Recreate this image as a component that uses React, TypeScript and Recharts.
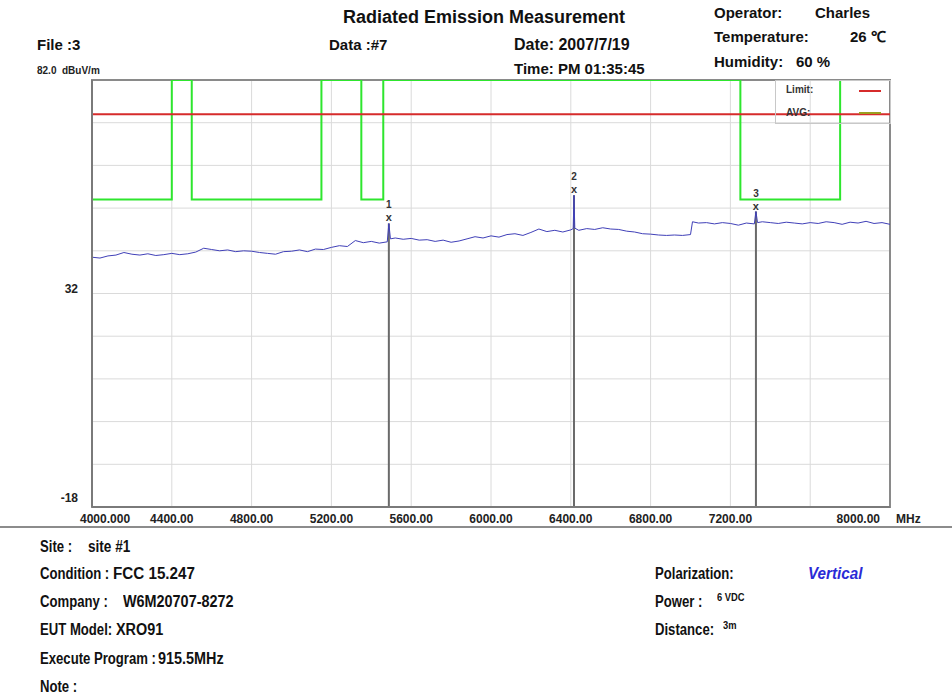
import { CartesianGrid, ComposedChart, Line, ReferenceArea, ReferenceLine, Scatter, XAxis, YAxis } from "recharts";

const freqTicks = [4000, 4400, 4800, 5200, 5600, 6000, 6400, 6800, 7200, 7600, 8000];
const freqTickLabels = ["4000.000", "4400.00", "4800.00", "5200.00", "5600.00", "6000.00", "6400.00", "6800.00", "7200.00", "", "8000.00"];
const levelTicks = [-18, -8, 2, 12, 22, 32, 42, 52, 62, 72, 82];
const levelTickLabels = ["-18", "", "", "", "", "32", "", "", "", "", "82.0"];

// measured trace (MHz / dBuV/m)
const traceFreq = [
  4000, 4040, 4080, 4120, 4160, 4200, 4240, 4280, 4320, 4360, 4400, 4440, 4480, 4520, 4560, 4600, 4640, 4680, 4720, 4760,
  4800, 4840, 4880, 4920, 4960, 5000, 5040, 5080, 5120, 5160, 5200, 5240, 5280, 5320, 5360, 5400, 5440, 5480, 5488, 5496,
  5520, 5560, 5600, 5640, 5680, 5720, 5760, 5800, 5840, 5880, 5920, 5960, 6000, 6040, 6080, 6120, 6160, 6200, 6240, 6280,
  6320, 6360, 6400, 6412, 6416, 6420, 6440, 6480, 6520, 6560, 6600, 6640, 6680, 6720, 6760, 6800, 6840, 6880, 6920, 6960,
  7000, 7010, 7040, 7080, 7120, 7160, 7200, 7240, 7280, 7320, 7328, 7336, 7360, 7400, 7440, 7480, 7520, 7560, 7600, 7640,
  7680, 7720, 7760, 7800, 7840, 7880, 7920, 7960, 8000,
];
const traceLevel = [
  40.5, 40.3, 40.8, 41.0, 41.6, 41.2, 41.0, 41.3, 40.9, 41.1, 41.4, 41.1, 41.3, 41.7, 42.6, 42.3, 42.0, 42.2, 41.8, 42.0,
  41.9, 41.6, 41.4, 41.2, 41.8, 41.9, 42.2, 41.8, 42.4, 42.3, 42.8, 43.2, 43.0, 44.4, 43.9, 44.2, 43.8, 44.1, 48.4, 44.8,
  45.0, 44.7, 44.9, 44.5, 44.6, 44.2, 44.5, 44.0, 44.3, 44.8, 45.3, 45.0, 45.5, 45.2, 45.8, 46.0, 45.6, 46.3, 47.1, 46.5,
  46.8, 46.4, 46.9, 47.2, 55.0, 47.3, 46.8, 47.2, 47.0, 47.4, 47.1, 47.0, 46.6, 46.4, 46.0, 45.9, 45.7, 45.6, 45.7, 45.6,
  45.8, 48.8, 48.5, 48.6, 48.3, 48.6, 48.4, 48.0, 48.5, 48.3, 51.2, 48.6, 48.8, 48.6, 48.4, 48.7, 48.5, 48.3, 48.6, 48.4,
  48.8, 48.6, 48.2, 48.7, 48.5, 48.9, 48.4, 48.6, 48.2,
];

const limitFreq = [4000, 8000];
const limitLevel = [74, 74];

const avgFreq = [4000, 4400, 4500, 5150, 5350, 5460, 7250, 7750, 8000];
const avgLevel = [54, 82, 54, 82, 54, 82, 54, 82, 82];

const markerFreq = [5488, 6416, 7328];
const markerLevel = [48.4, 55.0, 51.2];
const markerNames = ["1", "2", "3"];

const trace = traceFreq.map((f, i) => ({ f, v: traceLevel[i] }));
const limit = limitFreq.map((f, i) => ({ f, v: limitLevel[i] }));
const avg = avgFreq.map((f, i) => ({ f, v: avgLevel[i] }));
const markers = markerFreq.map((f, i) => ({ f, v: markerLevel[i], name: markerNames[i] }));

const FONT = '"Liberation Sans", Arial, sans-serif';

// squeeze = horizontal scale (no condensed face installed)
const T = ({ x, y, size = 15, color = "#111", italic = false, squeeze = 1, children }: any) => (
  <div
    style={{
      position: "absolute",
      left: x,
      top: y - size * 0.6,
      fontSize: size,
      lineHeight: 1.2,
      fontWeight: "bold",
      fontStyle: italic ? "italic" : "normal",
      color,
      whiteSpace: "pre",
      fontFamily: FONT,
      transform: squeeze !== 1 ? `scaleX(${squeeze})` : undefined,
      transformOrigin: "left center",
    }}
  >
    {children}
  </div>
);

const FreqTick = ({ x, y, index }: any) => {
  const label = freqTickLabels[index] ?? "";
  const last = index === freqTicks.length - 1;
  const first = index === 0;
  return (
    <g>
      <text
        x={first ? x - 12 : last ? x - 10 : x}
        y={y + 8}
        textAnchor={first ? "start" : last ? "end" : "middle"}
        fontSize={12}
        fontWeight="bold"
        fontFamily={FONT}
        fill="#222"
      >
        {label}
      </text>
      {last && (
        <text x={x + 6} y={y + 8} fontSize={12} fontWeight="bold" fontFamily={FONT} fill="#222">
          MHz
        </text>
      )}
    </g>
  );
};

const LevelTick = ({ x, y, index }: any) => {
  const label = levelTickLabels[index] ?? "";
  if (!label) return null;
  if (label === "82.0") {
    return (
      <g>
        <text x={37} y={y - 6} fontSize={10} fontWeight="bold" fontFamily={FONT} fill="#222">
          {label}
        </text>
        <text x={62} y={y - 6} fontSize={10} fontWeight="bold" fontFamily={FONT} fill="#222">
          dBuV/m
        </text>
      </g>
    );
  }
  return (
    <text x={x - 6} y={y - (label === "32" ? 1 : 5)} textAnchor="end" fontSize={12} fontWeight="bold" fontFamily={FONT} fill="#222">
      {label}
    </text>
  );
};

const MarkerShape = ({ cx, cy, payload }: any) => (
  <g>
    <text x={cx} y={cy - 2} textAnchor="middle" fontSize={11} fontWeight="bold" fontFamily={FONT} fill="#333">
      x
    </text>
    <text x={cx} y={cy - 15} textAnchor="middle" fontSize={10} fontWeight="bold" fontFamily={FONT} fill="#333">
      {payload.name}
    </text>
  </g>
);

export default function App() {
  return (
    <div style={{ position: "relative", width: 952, height: 698, background: "#fff", overflow: "hidden" }}>
      <style>{`body{margin:0}`}</style>
      <ComposedChart width={952} height={698} margin={{ top: 80, right: 62, bottom: 161, left: 52 }}>
        <CartesianGrid stroke="#dadada" strokeWidth={1} />
        <XAxis
          dataKey="f"
          type="number"
          domain={[4000, 8000]}
          ticks={freqTicks}
          tick={<FreqTick />}
          tickLine={false}
          axisLine={{ stroke: "#7a7a7a", strokeWidth: 2 }}
          height={30}
          allowDataOverflow
        />
        <YAxis
          type="number"
          domain={[-18, 82]}
          ticks={levelTicks}
          tick={<LevelTick />}
          tickLine={false}
          axisLine={{ stroke: "#7a7a7a", strokeWidth: 2 }}
          width={40}
          allowDataOverflow
        />
        <ReferenceArea x1={4000} x2={8000} y1={-18} y2={82} fill="none" stroke="#8a8a8a" strokeWidth={2} />
        {markers.map((m) => (
          <ReferenceLine
            key={m.name}
            segment={[
              { x: m.f, y: -18 },
              { x: m.f, y: m.v },
            ]}
            stroke="#6a6a6a"
            strokeWidth={2}
          />
        ))}
        <Line data={avg} dataKey="v" type="stepAfter" stroke="#2ee62e" strokeWidth={2} dot={false} isAnimationActive={false} />
        <Line data={limit} dataKey="v" type="linear" stroke="#d62b2b" strokeWidth={2} dot={false} isAnimationActive={false} />
        <Line data={trace} dataKey="v" type="linear" stroke="#4040b8" strokeWidth={1} dot={false} isAnimationActive={false} />
        <Scatter data={markers} dataKey="v" shape={<MarkerShape />} isAnimationActive={false} />
      </ComposedChart>

      {/* legend box */}
      <div
        style={{
          position: "absolute",
          left: 775,
          top: 80,
          width: 114,
          height: 42,
          border: "1px solid #c8c8c8",
          fontFamily: FONT,
          fontSize: 10,
          fontWeight: "bold",
          color: "#333",
        }}
      >
        <div style={{ position: "absolute", left: 10, top: 3 }}>Limit:</div>
        <div style={{ position: "absolute", left: 83, top: 9, width: 22, height: 2, background: "#d62b2b" }} />
        <div style={{ position: "absolute", left: 10, top: 26 }}>AVG:</div>
        <div style={{ position: "absolute", left: 83, top: 31, width: 22, height: 2, background: "#9aa020" }} />
      </div>

      <T x={343} y={18} size={18}>Radiated Emission Measurement</T>
      <T x={714} y={13} size={15}>Operator:</T>
      <T x={815} y={13} size={15}>Charles</T>
      <T x={714} y={37} size={15}>Temperature:</T>
      <T x={850} y={37} size={15}>26 ℃</T>
      <T x={714} y={62} size={15}>Humidity:</T>
      <T x={796} y={62} size={15}>60 %</T>
      <T x={37} y={45} size={15}>File :3</T>
      <T x={329} y={45} size={15}>Data :#7</T>
      <T x={514} y={45} size={16}>Date: 2007/7/19</T>
      <T x={514} y={69} size={15}>Time: PM 01:35:45</T>

      <div style={{ position: "absolute", left: 0, top: 526, width: 952, height: 2, background: "#8c8c8c" }} />

      <T x={40} y={547} size={16} squeeze={0.82}>Site :</T>
      <T x={88} y={547} size={16} squeeze={0.85}>site #1</T>
      <T x={40} y={574} size={16} squeeze={0.82}>Condition :</T>
      <T x={113} y={574} size={16} squeeze={0.95}>FCC 15.247</T>
      <T x={40} y={602} size={16} squeeze={0.82}>Company :</T>
      <T x={123} y={602} size={16} squeeze={0.9}>W6M20707-8272</T>
      <T x={40} y={630} size={16} squeeze={0.82}>EUT Model:</T>
      <T x={116} y={630} size={16} squeeze={0.9}>XRO91</T>
      <T x={40} y={659} size={16} squeeze={0.82}>Execute Program :</T>
      <T x={158} y={659} size={16} squeeze={0.9}>915.5MHz</T>
      <T x={40} y={687} size={16} squeeze={0.82}>Note :</T>

      <T x={655} y={574} size={16} squeeze={0.82}>Polarization:</T>
      <T x={808} y={574} size={16} color="#2b2bd6" italic squeeze={0.95}>Vertical</T>
      <T x={655} y={602} size={16} squeeze={0.82}>Power :</T>
      <T x={717} y={598} size={11} squeeze={0.85}>6 VDC</T>
      <T x={655} y={630} size={16} squeeze={0.82}>Distance:</T>
      <T x={723} y={626} size={11} squeeze={0.85}>3m</T>
    </div>
  );
}
